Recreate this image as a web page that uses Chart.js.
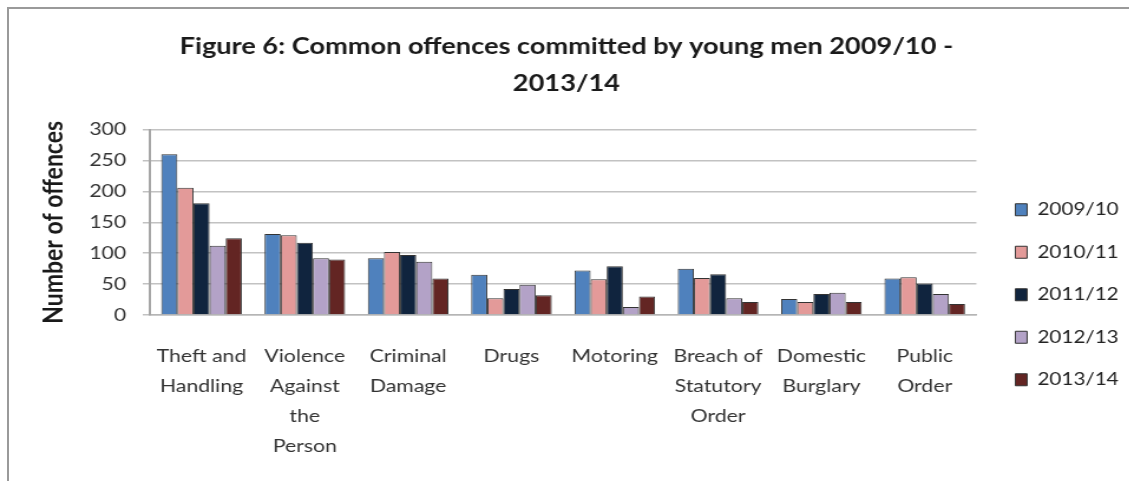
<!DOCTYPE html>
<html>
<head>
<meta charset="utf-8">
<title>Common offences committed by young men</title>
<script src="https://cdn.jsdelivr.net/npm/chart.js@4.4.1/dist/chart.umd.min.js"></script>
<style>
  html, body { margin: 0; padding: 0; background: #fff; overflow: hidden; }
  /* chart is laid out narrow and widened, giving the wide Calibri-like lettering */
  #wrap {
    position: absolute; left: 0; top: 0;
    width: 957px; height: 481px;
    transform: scaleX(1.18); transform-origin: 0 0;
  }
  #frame {
    position: absolute; left: 7px; top: 7px; right: -4px; bottom: -4px;
    border-left: 2px solid #9a9a9a; border-top: 2px solid #9a9a9a;
    pointer-events: none;
  }
</style>
</head>
<body>
<div id="wrap"><canvas id="offencesChart"></canvas></div>
<div id="frame"></div>
<script>
// offence types along the x axis
const categories = [
    ['Theft and', 'Handling'],
    ['Violence', 'Against', 'the', 'Person'],
    ['Criminal', 'Damage'],
    'Drugs',
    'Motoring',
    ['Breach of', 'Statutory', 'Order'],
    ['Domestic', 'Burglary'],
    ['Public', 'Order']
];

const years = ['2009/10', '2010/11', '2011/12', '2012/13', '2013/14'];

// number of offences per year, same order as categories
const offences0910 = [260, 131, 92, 65, 72, 75, 26, 59];
const offences1011 = [206, 129, 102, 27, 58, 60, 21, 61];
const offences1112 = [181, 117, 97, 42, 79, 66, 34, 51];
const offences1213 = [112, 92, 86, 49, 13, 27, 36, 34];
const offences1314 = [124, 90, 59, 32, 30, 21, 21, 18];

const yTicks = [0, 50, 100, 150, 200, 250, 300];

const seriesValues = [offences0910, offences1011, offences1112, offences1213, offences1314];
const seriesColours = ['#4f81bd', '#e39a99', '#10243e', '#b3a2c7', '#632523'];

const font = 'Lato';

const datasets = years.map((year, i) => ({
    label: year,
    data: seriesValues[i],
    backgroundColor: seriesColours[i],
    borderColor: '#333333',
    borderWidth: 1,
    categoryPercentage: 0.78,
    barPercentage: 1.0
}));

// moves the legend block down and right, next to the lower half of the plot
const legendOffset = {
    id: 'legendOffset',
    afterLayout(chart) {
        const lg = chart.legend;
        lg.top += 176;
        lg.bottom += 176;
        lg.left += 8;
        lg.right += 8;
    }
};

const ctx = document.getElementById('offencesChart').getContext('2d');

new Chart(ctx, {
    type: 'bar',
    data: {
        labels: categories,
        datasets: datasets
    },
    plugins: [legendOffset],
    options: {
        responsive: true,
        maintainAspectRatio: false,
        animation: false,
        layout: {
            padding: { left: 10, right: 7, top: 0, bottom: 0 }
        },
        plugins: {
            title: {
                display: true,
                text: ['Figure 6: Common offences committed by young men 2009/10 -', '2013/14'],
                color: '#1a1a1a',
                font: { family: font, size: 23, weight: 'bold', lineHeight: 1.6 },
                padding: { top: 28, bottom: 28 }
            },
            legend: {
                position: 'right',
                align: 'start',
                labels: {
                    color: '#222222',
                    font: { family: font, size: 17.5 },
                    boxWidth: 10,
                    boxHeight: 12,
                    padding: 25
                }
            },
            tooltip: { enabled: false }
        },
        scales: {
            x: {
                grid: { display: false, drawTicks: false },
                border: { display: true, color: '#b5b5b5', width: 1.5 },
                ticks: {
                    color: '#333333',
                    font: { family: font, size: 18, lineHeight: 1.667 },
                    padding: 26,
                    maxRotation: 0,
                    autoSkip: false
                },
                afterFit: (scale) => { scale.height = 166; }
            },
            y: {
                min: 0,
                max: 300,
                afterBuildTicks: (scale) => { scale.ticks = yTicks.map(v => ({ value: v })); },
                grid: { color: '#c2c2c2', lineWidth: 1.5, tickLength: 6 },
                border: { color: '#a6a6a6', width: 2 },
                ticks: {
                    color: '#333333',
                    font: { family: font, size: 18 },
                    padding: 14
                },
                title: {
                    display: true,
                    text: 'Number of offences',
                    color: '#1a1a1a',
                    font: { family: font, size: 23, weight: 'bold', lineHeight: 1.2 },
                    padding: { top: 22, bottom: 0 }
                },
                afterFit: (scale) => { scale.width = 117; }
            }
        }
    }
});
</script>
</body>
</html>
